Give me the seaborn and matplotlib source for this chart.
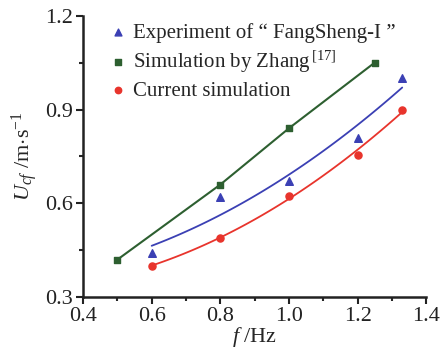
import numpy as np
import pandas as pd
import seaborn as sns
from matplotlib import pyplot as plt
from matplotlib.ticker import MultipleLocator

# values
freq_exp = [0.6, 0.8, 1.0, 1.2, 1.33]
u_exp = [0.44, 0.62, 0.67, 0.81, 1.00]

freq_zhang = [0.5, 0.8, 1.0, 1.25]
u_zhang = [0.42, 0.66, 0.84, 1.05]

freq_cur = [0.6, 0.8, 1.0, 1.2, 1.33]
u_cur = [0.40, 0.49, 0.625, 0.755, 0.90]

blue = "#3b40b4"
green = "#2d5f30"
red = "#e8342c"

sns.set_style("ticks")
plt.rcParams["font.family"] = ["Liberation Serif", "DejaVu Serif"]
plt.rcParams["mathtext.fontset"] = "custom"
plt.rcParams["mathtext.it"] = "Liberation Serif:italic"
plt.rcParams["mathtext.rm"] = "Liberation Serif"

fig, ax = plt.subplots(figsize=(4.44, 3.48), dpi=100)

# smooth trend curves (quadratic fit of the points)
xs = np.linspace(0.6, 1.33, 100)
fit_exp = np.polyval(np.polyfit(freq_exp, u_exp, 2), xs)
fit_cur = np.polyval(np.polyfit(freq_cur, u_cur, 2), xs)
sns.lineplot(x=xs, y=fit_exp, color=blue, lw=1.3, ax=ax)
sns.lineplot(x=xs, y=fit_cur, color=red, lw=1.3, ax=ax)
sns.lineplot(x=freq_zhang, y=u_zhang, color=green, lw=1.5, ax=ax)

ax.scatter(freq_exp, u_exp, marker="^", s=30, color=blue, zorder=3,
           label="Experiment of \u201c FangSheng-I \u201d")
ax.scatter(freq_zhang, u_zhang, marker="s", s=24, color=green, zorder=3,
           label="Simulation by Zhang$^{\\,[17]}$")
ax.scatter(freq_cur, u_cur, marker="o", s=26, color=red, zorder=3,
           label="Current simulation")

ax.set_xlim(0.4, 1.4)
ax.set_ylim(0.3, 1.2)
ax.xaxis.set_major_locator(MultipleLocator(0.2))
ax.xaxis.set_minor_locator(MultipleLocator(0.1))
ax.yaxis.set_major_locator(MultipleLocator(0.3))
ax.yaxis.set_minor_locator(MultipleLocator(0.15))
ax.xaxis.set_major_formatter(plt.FormatStrFormatter("%.1f"))
ax.yaxis.set_major_formatter(plt.FormatStrFormatter("%.1f"))

ax.tick_params(which="major", length=5, width=1.5, labelsize=16, colors="#222222", pad=2)
ax.tick_params(which="minor", length=3, width=1.5)
for s in ["left", "bottom"]:
    ax.spines[s].set_linewidth(1.8)
    ax.spines[s].set_color("#222222")
sns.despine(ax=ax)

ax.set_xlabel("$f$ /Hz", fontsize=16, labelpad=-1)
ax.set_ylabel("$U_{cf}$ /m$\\cdot$s$^{-1}$", fontsize=16, labelpad=4)

ax.legend(loc="upper left", frameon=False, fontsize=15, handletextpad=0.2,
          labelspacing=0.3, borderaxespad=0, borderpad=0.2,
          bbox_to_anchor=(0.06, 0.99), handlelength=1.0, markerscale=0.9)

fig.subplots_adjust(left=0.187, right=0.96, bottom=0.146, top=0.955)
fig.savefig("out.png", dpi=100)
